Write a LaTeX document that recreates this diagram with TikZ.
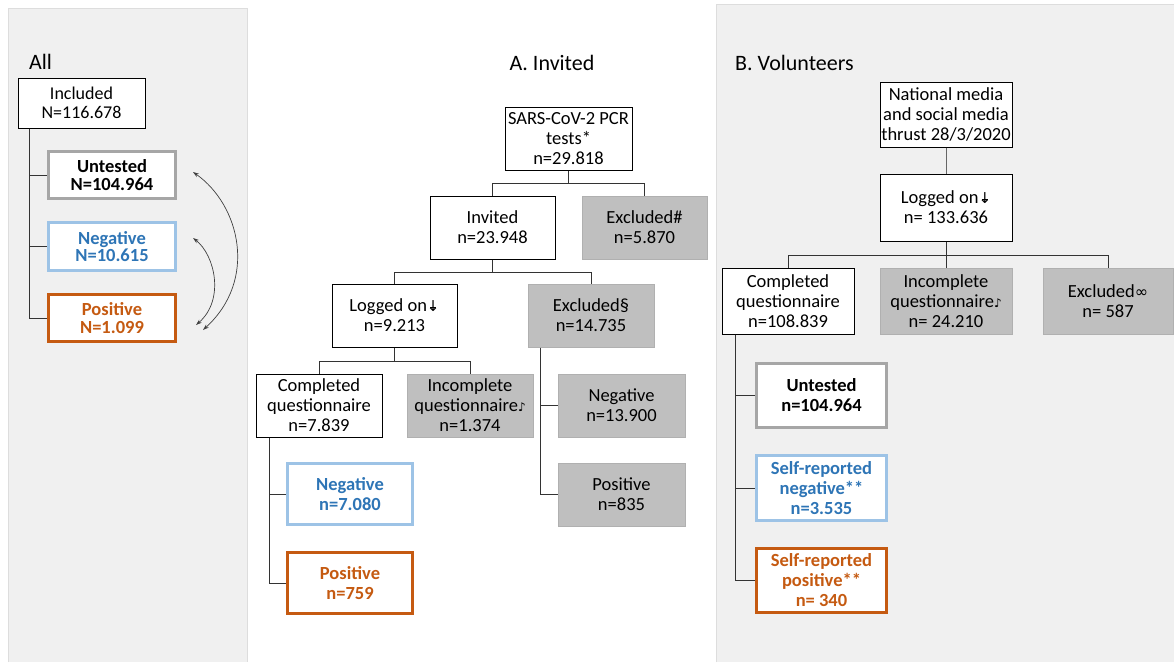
\documentclass[tikz,border=0pt]{standalone}
\usepackage{fontspec}
\setmainfont{Carlito}
\newfontfamily\dejavu{DejaVu Sans}
\usetikzlibrary{arrows.meta}
\definecolor{panelgray}{HTML}{F0F0F0}
\definecolor{panelline}{HTML}{DDDDDD}
\definecolor{boxgray}{HTML}{BFBFBF}
\definecolor{boxgrayline}{HTML}{B0B0B0}
\definecolor{blueT}{HTML}{2E75B6}
\definecolor{blueB}{HTML}{9DC3E6}
\definecolor{orangeC}{HTML}{C55A11}
\definecolor{grayB}{HTML}{A6A6A6}
\definecolor{treeline}{HTML}{333333}
\newcommand\logmark{{\dejavu\fontsize{15}{15}\selectfont\ooalign{↓\cr\hidewidth\raisebox{0.42ex}{\rule{0.4em}{0.08em}}\hidewidth\cr}}}
\newcommand\incmark{{\dejavu\fontsize{12}{12}\selectfont ♪}}
\newcommand\infmark{{\dejavu\fontsize{16}{16}\selectfont ∞}}
\tikzset{
  box/.style={draw=black, line width=1pt, fill=white, align=center, inner sep=0pt,
    font=\fontsize{18.5}{20}\selectfont},
  gbox/.style={box, fill=boxgray, draw=boxgrayline},
  ubox/.style={box, draw=grayB, line width=3pt, font=\fontsize{18.5}{20}\selectfont\bfseries},
  nbox/.style={box, draw=blueB, line width=3pt, text=blueT, font=\fontsize{18.5}{20}\selectfont\bfseries},
  pbox/.style={box, draw=orangeC, line width=3pt, text=orangeC, font=\fontsize{18.5}{20}\selectfont\bfseries},
  tree/.style={draw=treeline, line width=1pt},
  title/.style={font=\fontsize{22}{24}\selectfont, inner sep=0pt},
  arc/.style={draw=black!75, line width=0.7pt, {Stealth[length=6pt,width=4pt]}-{Stealth[length=6pt,width=4pt]}},
}
\begin{document}
\begin{tikzpicture}[x=1pt,y=1pt]
\useasboundingbox (0,0) rectangle (1174,-662);
\fill[white] (0,0) rectangle (1174,-662);
% panels
\filldraw[fill=panelgray, draw=panelline] (8,-662) -- (8,-8) -- (247,-8) -- (247,-662);
\filldraw[fill=panelgray, draw=panelline] (716,-662) -- (716,-4) -- (1174,-4) -- (1174,-662);

% ---------- All ----------
\node[title, anchor=west] (tall) at (29,-62) {All};
\node[box, minimum width=127pt, minimum height=50pt, font=\fontsize{18}{18.5}\selectfont] (inc) at (81.5,-103) {Included\\N=116.678};
\node[ubox, minimum width=127pt, minimum height=47pt, font=\fontsize{18.5}{17.5}\selectfont\bfseries] (aunt) at (112,-175) {Untested\\N=104.964};
\node[nbox, minimum width=127pt, minimum height=48pt, font=\fontsize{18.5}{17.5}\selectfont\bfseries] (aneg) at (112,-246.5) {Negative\\N=10.615};
\node[pbox, minimum width=127pt, minimum height=47pt, font=\fontsize{18.5}{17.5}\selectfont\bfseries] (apos) at (112,-318) {Positive\\N=1.099};
\coordinate (ax) at (29,0);
\draw[tree] (inc.south -| ax) |- (aunt.west);
\draw[tree] (inc.south -| ax) |- (aneg.west);
\draw[tree] (inc.south -| ax) |- (apos.west);
\coordinate (a1) at (193,-172);
\coordinate (a2) at (203,-330);
\coordinate (a3) at (193,-238);
\coordinate (a4) at (196,-325);
\draw[arc] (a1) .. controls (240,-205) and (258,-280) .. (a2);
\draw[arc] (a3) .. controls (215,-255) and (225,-300) .. (a4);

% ---------- A. Invited ----------
\node[title] (tinv) at (552,-63) {A. Invited};
\node[box, minimum width=127pt, minimum height=63pt] (sars) at (568.5,-138.5) {SARS-CoV-2 PCR\\tests*\\n=29.818};
\node[box, minimum width=125pt, minimum height=63pt] (inv) at (492.5,-227.5) {Invited\\n=23.948};
\node[gbox, minimum width=125pt, minimum height=63pt] (exa) at (644.5,-227.5) {Excluded\#\\n=5.870};
\node[box, minimum width=125pt, minimum height=63pt] (loga) at (394.5,-315.5) {Logged on\logmark\\n=9.213};
\node[gbox, minimum width=126pt, minimum height=63pt] (exb) at (591,-315.5) {Excluded§\\n=14.735};
\node[box, minimum width=126pt, minimum height=63pt] (compa) at (319,-405.5) {Completed\\questionnaire\\n=7.839};
\node[gbox, minimum width=126pt, minimum height=63pt] (inca) at (470,-405.5) {Incomplete\\questionnaire\incmark\\n=1.374};
\node[gbox, minimum width=127pt, minimum height=63pt] (gneg) at (621.5,-405.5) {Negative\\n=13.900};
\node[gbox, minimum width=127pt, minimum height=63pt] (gpos) at (621.5,-494.5) {Positive\\n=835};
\node[nbox, minimum width=125pt, minimum height=61pt] (bneg) at (350,-494) {Negative\\n=7.080};
\node[pbox, minimum width=125pt, minimum height=61pt] (opos) at (350,-583) {Positive\\n=759};
\coordinate (j1) at (0,-183);
\coordinate (j2) at (0,-272);
\coordinate (j3) at (0,-361);
\coordinate (xb) at (540,0);
\coordinate (xc) at (269,0);
\draw[tree] (sars.south) -- (sars.south |- j1) -| (inv.north);
\draw[tree] (sars.south |- j1) -| (exa.north);
\draw[tree] (inv.south) -- (inv.south |- j2) -| (loga.north);
\draw[tree] (inv.south |- j2) -| (exb.north);
\draw[tree] (loga.south) -- (loga.south |- j3) -| (compa.north);
\draw[tree] (loga.south |- j3) -| (inca.north);
\draw[tree] (exb.south -| xb) |- (gneg.west);
\draw[tree] (exb.south -| xb) |- (gpos.west);
\draw[tree] (compa.south -| xc) |- (bneg.west);
\draw[tree] (compa.south -| xc) |- (opos.west);

% ---------- B. Volunteers ----------
\node[title, anchor=west] (tvol) at (735,-63) {B. Volunteers};
\node[box, minimum width=132pt, minimum height=65pt] (nat) at (946,-114.5) {National media\\and social media\\thrust 28/3/2020};
\node[box, minimum width=132pt, minimum height=67pt] (logb) at (946,-207.5) {Logged on\logmark\\n= 133.636};
\node[box, minimum width=132pt, minimum height=66pt] (compb) at (788,-301) {Completed\\questionnaire\\n=108.839};
\node[gbox, minimum width=132pt, minimum height=66pt] (incb) at (946,-301) {Incomplete\\questionnaire\incmark\\n= 24.210};
\node[gbox, minimum width=130pt, minimum height=66pt] (exc) at (1108,-301) {Excluded\infmark\\n= 587};
\node[ubox, minimum width=130pt, minimum height=64pt] (bunt) at (821.5,-395.5) {Untested\\n=104.964};
\node[nbox, minimum width=130pt, minimum height=65pt] (bneg2) at (821.5,-488) {Self-reported\\negative**\\n=3.535};
\node[pbox, minimum width=130pt, minimum height=64pt] (bpos2) at (821.5,-580.5) {Self-reported\\positive**\\n= 340};
\coordinate (j4) at (0,-255);
\coordinate (xd) at (735,0);
\draw[tree, draw=black!60, line width=0.8pt] (nat.south) -- (logb.north);
\draw[tree] (logb.south) -- (logb.south |- j4) -| (compb.north);
\draw[tree] (logb.south |- j4) -| (incb.north);
\draw[tree] (logb.south |- j4) -| (exc.north);
\draw[tree] (compb.south -| xd) |- (bunt.west);
\draw[tree] (compb.south -| xd) |- (bneg2.west);
\draw[tree] (compb.south -| xd) |- (bpos2.west);
\end{tikzpicture}
\end{document}
